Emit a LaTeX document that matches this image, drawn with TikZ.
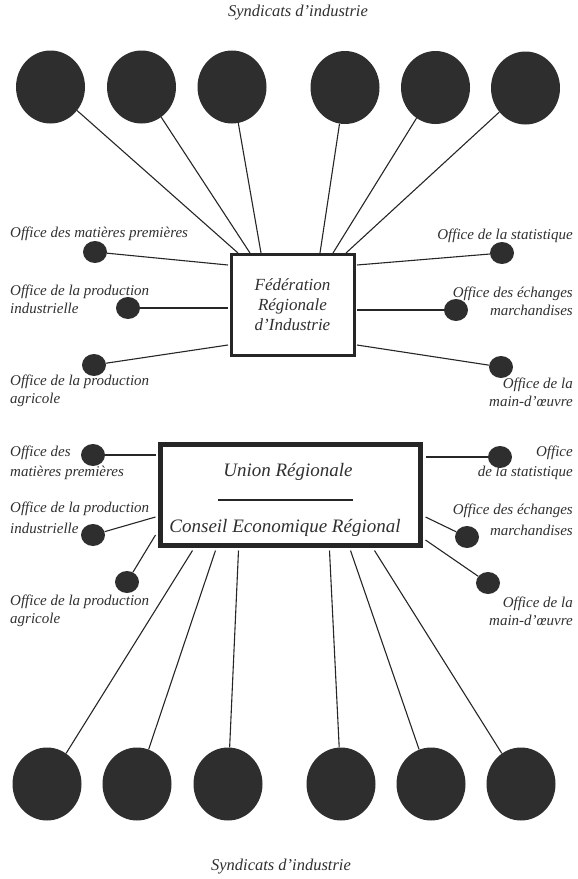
\documentclass[tikz,border=0pt]{standalone}
\usepackage{fontspec}
\setmainfont{Liberation Serif}
\usetikzlibrary{shapes.geometric,calc}

\definecolor{ink}{HTML}{2E2E2E}
\definecolor{txt}{HTML}{303030}

\tikzset{
  syndic/.style={ellipse, fill=ink, draw=none, minimum width=69pt, minimum height=73pt, inner sep=0pt},
  office/.style={ellipse, fill=ink, draw=none, minimum width=24pt, minimum height=22pt, inner sep=0pt},
  lbl/.style={font=\fontsize{15}{18}\selectfont\itshape, text=txt, inner sep=0pt},
  lblw/.style={lbl, font=\fontsize{15}{20.5}\selectfont\itshape},
  title/.style={font=\fontsize{16.5}{20}\selectfont\itshape, text=txt, inner sep=0pt},
  link/.style={line width=1.1pt, draw=black!85},
  fedbox/.style={draw=black!85, line width=3pt, fill=white, minimum width=123pt, minimum height=101pt, inner sep=0pt,
    align=center, font=\fontsize{17}{20}\selectfont\itshape, text=txt},
  unionbox/.style={draw=black!85, line width=5pt, fill=white, minimum width=260pt, minimum height=101pt, inner sep=0pt},
  bigtxt/.style={font=\fontsize{19}{22}\selectfont\itshape, text=txt, inner sep=0pt}
}

\begin{document}
\begin{tikzpicture}[x=1pt,y=-1pt]
\useasboundingbox (0,0) rectangle (578,879);

% titles
\node[title] (ttop) at (298,13) {Syndicats d'industrie};
\node[title] (tbot) at (281,867) {Syndicats d'industrie};

% industry unions, upper row
\node[syndic] (t1) at (50.5,87) {};
\node[syndic] (t2) at (141.5,87) {};
\node[syndic] (t3) at (232,87) {};
\node[syndic] (t4) at (345,87.5) {};
\node[syndic] (t5) at (435.5,87.5) {};
\node[syndic] (t6) at (525.5,88) {};

% industry unions, lower row
\node[syndic] (b1) at (47,784) {};
\node[syndic] (b2) at (137,784) {};
\node[syndic] (b3) at (228,784) {};
\node[syndic] (b4) at (341,784) {};
\node[syndic] (b5) at (431,784) {};
\node[syndic] (b6) at (521,784) {};

% the two boxes
\node[fedbox] (fed) at (292.5,305) {F\'ed\'eration\\R\'egionale\\d'Industrie};
\node[unionbox] (ub) at (290.5,495) {};
\node[bigtxt] (ur) at (288,472) {Union R\'egionale};
\node[bigtxt] (ce) at (285,528) {Conseil Economique R\'egional};
\draw[line width=1.1pt, draw=black!85] ($(ub.center)+(-72.5,5)$) -- ($(ub.center)+(62.5,5)$);

% link between the boxes
\draw[line width=3pt, draw=black!85] ($(fed.south)+(5,0)$) -- ($(fed.south)+(5,0)$ |- ub.north);

% offices around the federation
\node[office] (fl1) at (95,252) {};
\node[office] (fl2) at (128,308) {};
\node[office] (fl3) at (94,365) {};
\node[office] (fr1) at (502,253) {};
\node[office] (fr2) at (456,310) {};
\node[office] (fr3) at (501,367) {};

% offices around the regional union
\node[office] (ul1) at (93,455) {};
\node[office] (ul2) at (93,535) {};
\node[office] (ul3) at (127,582) {};
\node[office] (ur1) at (500,457) {};
\node[office] (ur2) at (467,537) {};
\node[office] (ur3) at (488,583) {};

% office labels, federation
\node[lbl, anchor=west] (lfl1) at (10,234) {Office des mati\`eres premi\`eres};
\node[lbl, anchor=west, align=left] (lfl2) at (10,299) {Office de la production\\industrielle};
\node[lbl, anchor=west, align=left] (lfl3) at (10,391) {Office de la production\\agricole};
\node[lbl, anchor=east] (lfr1) at (573,236) {Office de la statistique};
\node[lbl, anchor=east, align=right] (lfr2) at (573,301) {Office des \'echanges\\marchandises};
\node[lbl, anchor=east, align=right] (lfr3) at (573,392) {Office de la\\main-d'\oe uvre};

% office labels, regional union
\node[lblw, anchor=west, align=left] (lul1) at (10,463) {Office des\\mati\`eres premi\`eres};
\node[lblw, anchor=west, align=left] (lul2) at (10,518) {Office de la production\\industrielle};
\node[lbl, anchor=west, align=left] (lul3) at (10,611) {Office de la production\\agricole};
\node[lblw, anchor=east, align=right] (lur1) at (573,463) {Office\\de la statistique};
\node[lblw, anchor=east, align=right] (lur2) at (573,520) {Office des \'echanges\\marchandises};
\node[lbl, anchor=east, align=right] (lur3) at (573,611) {Office de la\\main-d'\oe uvre};

% connectors: upper unions to the federation
\draw[link] (t1) -- ($(fed.north west)+(8.5,0)$);
\draw[link] (t2) -- ($(fed.north west)+(20.5,0)$);
\draw[link] (t3) -- ($(fed.north west)+(31.5,0)$);
\draw[link] (t4) -- ($(fed.north west)+(90.5,0)$);
\draw[link] (t5) -- ($(fed.north west)+(103.5,0)$);
\draw[link] (t6) -- ($(fed.north west)+(116.5,0)$);

% connectors: lower unions to the regional union
\draw[link] (b1) -- ($(ub.south west)+(34.5,2.5)$);
\draw[link] (b2) -- ($(ub.south west)+(57.5,2.5)$);
\draw[link] (b3) -- ($(ub.south west)+(80.5,2.5)$);
\draw[link] (b4) -- ($(ub.south west)+(171.5,2.5)$);
\draw[link] (b5) -- ($(ub.south west)+(192.5,2.5)$);
\draw[link] (b6) -- ($(ub.south west)+(216.5,2.5)$);

% connectors: offices to the federation
\draw[link] (fl1) -- ($(fed.west)+(-1.5,-40)$);
\draw[link] (fl2) -- ($(fed.west)+(-1.5,3)$);
\draw[link] (fl3) -- ($(fed.west)+(-1.5,40)$);
\draw[link] (fr1) -- ($(fed.east)+(1.5,-40)$);
\draw[link] (fr2) -- ($(fed.east)+(1.5,5)$);
\draw[link] (fr3) -- ($(fed.east)+(1.5,40)$);

% connectors: offices to the regional union
\draw[link] (ul1) -- ($(ub.west)+(-2.5,-40)$);
\draw[link] (ul2) -- ($(ub.west)+(-2.5,22)$);
\draw[link] (ul3) -- ($(ub.west)+(-2.5,40)$);
\draw[link] (ur1) -- ($(ub.east)+(2.5,-38)$);
\draw[link] (ur2) -- ($(ub.east)+(2.5,22)$);
\draw[link] (ur3) -- ($(ub.east)+(2.5,45)$);
\end{tikzpicture}
\end{document}
